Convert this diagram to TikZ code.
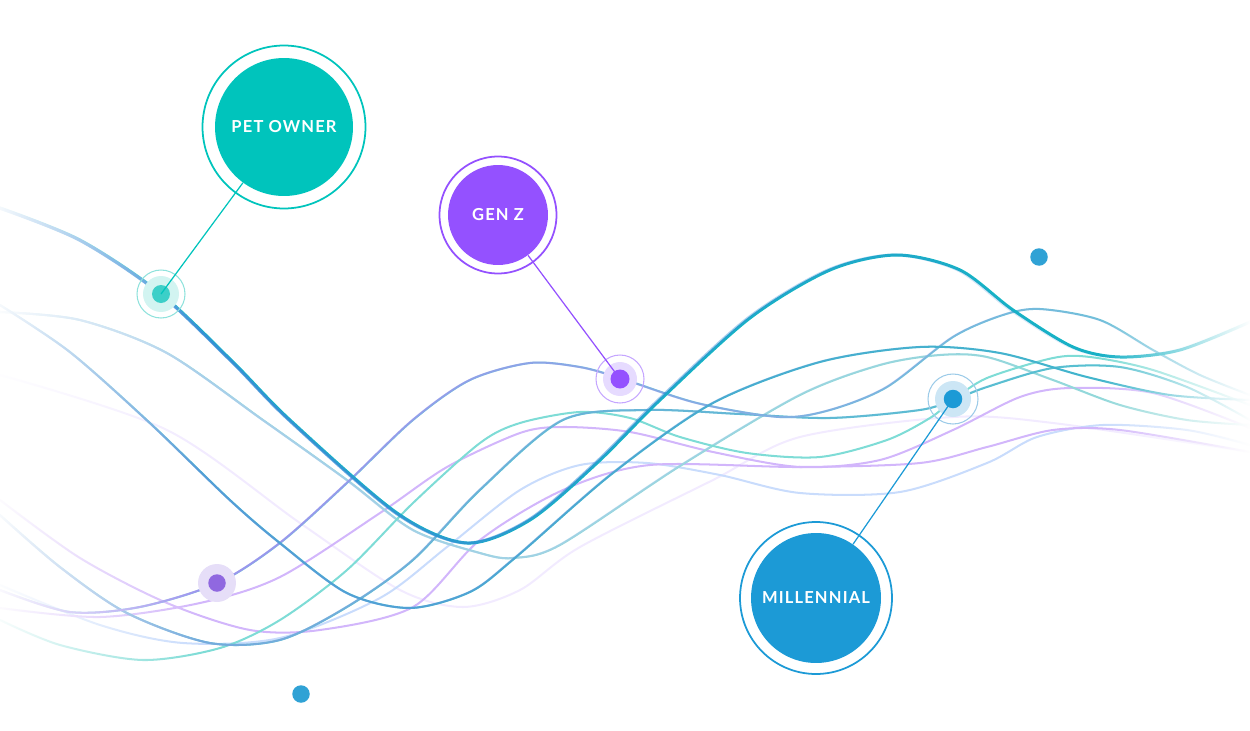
\documentclass[tikz,border=0pt]{standalone}
\usepackage{fontspec}
\newfontfamily\labelfont[LetterSpace=7]{Lato}
\usetikzlibrary{fadings}

\definecolor{petc}{HTML}{00C4BC}
\definecolor{genzc}{HTML}{9451FF}
\definecolor{millc}{HTML}{1C9AD6}
\definecolor{pethalo}{HTML}{D2F4F1}
\definecolor{petring}{HTML}{8FE2DC}
\definecolor{pethubc}{HTML}{3CCFC8}
\definecolor{genzhalo}{HTML}{E6DBFF}
\definecolor{genzring}{HTML}{C5A6FF}
\definecolor{millhalo}{HTML}{CCE6F5}
\definecolor{millring}{HTML}{9CCBE8}
\definecolor{violethub}{HTML}{9068E0}
\definecolor{violethalo}{HTML}{E6DEF8}
\definecolor{lonedot}{HTML}{30A2D5}
% wave colours
\definecolor{waveteal}{HTML}{14B6C4}
\definecolor{waveblue}{HTML}{3B8AD8}
\definecolor{wavesea}{HTML}{3FBACB}
\definecolor{wavesky}{HTML}{5A96DA}
\definecolor{waveaqua}{HTML}{8FDAD8}
\definecolor{waveice}{HTML}{AECDEE}
\definecolor{wavemint}{HTML}{6CC6D8}
\definecolor{wavelilac}{HTML}{A48CF2}
\definecolor{wavesteel}{HTML}{7DA6E0}
\definecolor{wavecyan}{HTML}{52C4CF}
\definecolor{wavefoam}{HTML}{7EDCD6}
\definecolor{waveorchid}{HTML}{D2B6FB}
\definecolor{wavepale}{HTML}{C9DCFC}
\definecolor{wavemist}{HTML}{F2EBFF}

\tikzfading[name=fade right, left color=transparent!0, right color=transparent!100]
\tikzfading[name=fade left, left color=transparent!100, right color=transparent!0]
\tikzfading[name=blend, left color=transparent!0, middle color=transparent!55, right color=transparent!100]

\begin{document}
\begin{tikzpicture}[x=0.02cm,y=-0.02cm,
    wave/.style={line width=1.15pt, line cap=round},
    thick wave/.style={line width=1.7pt},
    main base/.style={draw=waveteal}, main tint/.style={draw=waveblue, path fading=blend},
    sky base/.style={draw=wavesea}, sky tint/.style={draw=wavesky, path fading=blend},
    ice base/.style={draw=waveaqua}, ice tint/.style={draw=waveice, path fading=blend},
    lilac base/.style={draw=wavemint}, lilac tint/.style={draw=wavelilac, path fading=blend},
    steel base/.style={draw=wavecyan}, steel tint/.style={draw=wavesteel, path fading=blend},
    bubble/.style={circle, fill=#1, text=white, inner sep=0pt,
      font=\labelfont\bfseries\fontsize{9.4}{11}\selectfont},
    ring/.style={draw=#1, line width=1pt},
    hub/.style={circle, fill=#1, minimum size=0.36cm, inner sep=0pt},
    link/.style={line width=0.7pt}]

  \useasboundingbox (0,0) rectangle (1250,730);

  % pale waves
  \draw[wave, wavemist] plot[smooth] coordinates {(0,375) (167,430) (300,523) (400,590) (463,607) (520,590) (580,547) (713,480) (800,437) (953,417) (1053,423) (1250,452)};
  \draw[wave, wavepale] plot[smooth] coordinates {(0,585) (100,625) (183,643) (280,638) (380,598) (447,547) (520,490) (580,465) (647,463) (720,475) (800,493) (900,492) (987,463) (1037,437) (1103,425) (1187,430) (1250,445)};
  \draw[wave, waveorchid] plot[smooth] coordinates {(0,500) (80,558) (167,603) (250,630) (320,630) (413,607) (480,540) (563,490) (650,465) (800,467) (920,463) (987,447) (1053,430) (1120,430) (1250,452)};
  \draw[wave, waveorchid] plot[smooth] coordinates {(0,608) (100,617) (200,603) (280,577) (380,513) (447,467) (520,433) (563,427) (630,432) (713,452) (800,467) (880,460) (953,430) (1020,397) (1070,388) (1153,393) (1250,428)};
  \foreach \s in {ice base, ice tint}
    \draw[wave, \s] plot[smooth] coordinates {(0,312) (80,320) (167,353) (263,420) (347,480) (413,530) (480,553) (513,558) (560,545) (680,466) (800,395) (880,365) (940,355) (987,357) (1053,380) (1120,405) (1187,420) (1250,425)};
  \draw[wave, wavefoam] plot[smooth] coordinates {(0,620) (60,645) (143,660) (220,648) (280,620) (347,570) (413,503) (480,443) (520,423) (580,412) (630,418) (680,437) (747,453) (820,457) (887,440) (930,418) (953,400) (987,378) (1053,358) (1090,357) (1153,370) (1250,405)};

  % stronger waves
  \foreach \s in {steel base, steel tint}
    \draw[wave, \s] plot[smooth] coordinates {(0,515) (60,567) (127,613) (210,643) (280,640) (347,607) (413,560) (480,490) (563,420) (647,410) (740,414) (830,418) (920,410) (953,400) (987,387) (1053,368) (1120,367) (1187,387) (1250,420)};
  \foreach \s in {lilac base, lilac tint}
    \draw[wave, \s] plot[smooth] coordinates {(0,590) (70,612) (140,607) (218,583) (280,543) (347,483) (413,420) (470,380) (530,363) (580,367) (620,378) (697,403) (780,417) (830,410) (887,387) (953,337) (1003,315) (1040,309) (1100,320) (1153,350) (1200,375) (1250,395)};
  \foreach \s in {sky base, sky tint}
    \draw[wave, \s] plot[smooth] coordinates {(0,305) (70,352) (150,423) (230,500) (280,543) (347,593) (410,608) (470,592) (515,558) (613,473) (713,403) (820,362) (920,347) (1000,353) (1087,377) (1170,395) (1250,400)};
  \foreach \s in {main base, main tint}
    \draw[wave, thick wave, \s] plot[smooth] coordinates {(0,208) (80,240) (160,293) (233,362) (290,420) (397,513) (467,543) (530,520) (597,463) (660,400) (750,318) (830,270) (897,255) (960,270) (1013,310) (1073,347) (1120,357) (1180,350) (1250,322)};

  % edges fade out
  \fill[white, fill opacity=0.95, path fading=fade right] (0,0) rectangle (200,730);
  \fill[white, path fading=fade left] (1100,0) rectangle (1250,730);

  % bubbles
  \node[bubble=petc, minimum size=2.76cm] (petowner) at (284,127) {PET OWNER};
  \draw[ring=petc] (petowner.center) circle[radius=1.63cm];
  \node[bubble=genzc, minimum size=2cm] (genz) at (498,215) {GEN Z};
  \draw[ring=genzc] (genz.center) circle[radius=1.17cm];
  \node[bubble=millc, minimum size=2.6cm] (millennial) at (816,598) {MILLENNIAL};
  \draw[ring=millc] (millennial.center) circle[radius=1.52cm];

  % hubs on the waves
  \fill[pethalo] (161,294) circle[radius=0.36cm];
  \draw[petring, line width=0.6pt] (161,294) circle[radius=0.48cm];
  \node[hub=pethubc] (pethub) at (161,294) {};
  \fill[genzhalo] (620,379) circle[radius=0.34cm];
  \draw[genzring, line width=0.6pt] (620,379) circle[radius=0.48cm];
  \node[hub=genzc, minimum size=0.38cm] (genzhub) at (620,379) {};
  \fill[millhalo] (953,399) circle[radius=0.36cm];
  \draw[millring, line width=0.6pt] (953,399) circle[radius=0.5cm];
  \node[hub=millc, minimum size=0.37cm] (millhub) at (953,399) {};
  \fill[violethalo] (217,583) circle[radius=0.38cm];
  \node[hub=violethub, minimum size=0.35cm] (violethubA) at (217,583) {};
  \node[hub=lonedot, minimum size=0.35cm] (dotA) at (1039,257) {};
  \node[hub=lonedot, minimum size=0.35cm] (dotB) at (301,694) {};

  \draw[link, petc] (petowner) -- (pethub.center);
  \draw[link, genzc] (genz) -- (genzhub.center);
  \draw[link, millc] (millennial) -- (millhub.center);
\end{tikzpicture}
\end{document}
